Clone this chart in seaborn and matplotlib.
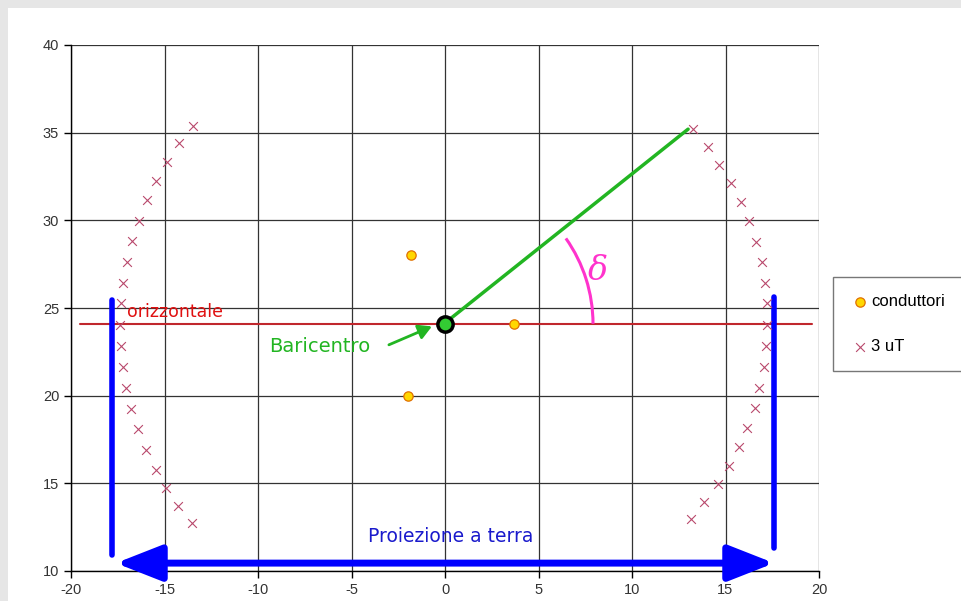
import numpy as np
import pandas as pd
import matplotlib
matplotlib.use("Agg")
import matplotlib.pyplot as plt
import seaborn as sns
from matplotlib.patches import Arc, Rectangle

sns.set_style("white")
plt.rcParams['font.family'] = ['Liberation Sans', 'DejaVu Sans']
plt.rcParams['axes.unicode_minus'] = False

# ---- data ----
cond_x = [-1.8, 3.7, -2.0]
cond_y = [28.0, 24.1, 20.0]

left_x = [-13.46, -14.22, -14.85, -15.44, -15.92, -16.36, -16.74, -16.99, -17.22, -17.33, -17.38,
          -17.33, -17.22, -17.06, -16.79, -16.43, -15.99, -15.47, -14.94, -14.28, -13.51]
left_y = [35.38, 34.40, 33.35, 32.26, 31.15, 29.98, 28.82, 27.61, 26.45, 25.27, 24.05,
          22.84, 21.65, 20.42, 19.24, 18.08, 16.92, 15.78, 14.75, 13.71, 12.74]
right_x = [13.28, 14.05, 14.67, 15.29, 15.83, 16.27, 16.65, 16.94, 17.13, 17.22, 17.22,
           17.18, 17.07, 16.79, 16.56, 16.17, 15.71, 15.19, 14.58, 13.87, 13.14]
right_y = [35.20, 34.20, 33.16, 32.15, 31.07, 29.98, 28.77, 27.61, 26.45, 25.27, 24.05,
           22.84, 21.64, 20.46, 19.28, 18.14, 17.07, 15.99, 14.96, 13.95, 12.98]

bary_x, bary_y = 0.0, 24.1
horiz_x = [-19.5, 19.6]
green_end = (13.0, 35.2)
blue_left_x, blue_left_y = -17.8, [10.9, 25.45]
blue_right_x, blue_right_y = 17.6, [11.3, 25.6]
arrow_y = 10.45
arrow_x = [-17.6, 17.6]

xticks = [-20, -15, -10, -5, 0, 5, 10, 15, 20]
yticks = [10, 15, 20, 25, 30, 35, 40]

cond_df = pd.DataFrame({"x": cond_x, "y": cond_y, "s": "conduttori"})
uT_df = pd.DataFrame({"x": left_x + right_x, "y": left_y + right_y, "s": "3 uT"})

# ---- figure ----
fig = plt.figure(figsize=(9.62, 6.01), dpi=100, facecolor="white")
fig.patches.append(Rectangle((0, 1 - 8/601), 1, 8/601, transform=fig.transFigure,
                             facecolor="#e6e6e6", edgecolor="none", zorder=-1))
fig.patches.append(Rectangle((0, 0), 8/962, 1, transform=fig.transFigure,
                             facecolor="#e6e6e6", edgecolor="none", zorder=-1))
ax = fig.add_axes([71/962, 30/601, 748/962, 526/601])
ax.set_xlim(-20, 20)
ax.set_ylim(10, 40)
ax.set_xticks(xticks)
ax.set_yticks(yticks)
ax.grid(True, color="#333333", lw=0.9)
ax.set_axisbelow(True)
for s in ["top", "right"]:
    ax.spines[s].set_visible(False)
for s in ["left", "bottom"]:
    ax.spines[s].set_color("black")
    ax.spines[s].set_linewidth(1)
ax.tick_params(axis="both", direction="out", length=5, width=1, color="black",
               labelsize=10.5, labelcolor="#333333", left=True, bottom=True)

# horizontal line
ax.plot(horiz_x, [bary_y, bary_y], color="#c0272d", lw=1.5, zorder=2)
# green line
ax.plot([0.3, green_end[0]], [bary_y + 0.3, green_end[1]], color="#22b522", lw=2.5, zorder=2)

# markers
sns.scatterplot(data=cond_df, x="x", y="y", ax=ax, marker="o", s=45,
                color="#ffd700", edgecolor="#e07000", linewidth=0.9,
                label="conduttori", zorder=4)
sns.scatterplot(data=uT_df, x="x", y="y", ax=ax, marker="x", s=40,
                color="#b8496c", linewidth=0.8, label="3 uT", zorder=4)
ax.plot([bary_x], [bary_y], "o", ms=11, mfc="#33cc33", mec="black", mew=2.5, zorder=5)
ax.set_xlabel("")
ax.set_ylabel("")

# angle arc (circular in pixel space)
r_px = 148
ppx = 748 / 40
ppy = 526 / 30
arc = Arc((bary_x, bary_y), 2 * r_px / ppx, 2 * r_px / ppy, theta1=0, theta2=37,
          color="#ff33cc", lw=2.2, zorder=3)
ax.add_patch(arc)
ax.text(8.2, 27.1, "δ", color="#ff33cc", fontsize=24, style="italic",
        family="DejaVu Serif", ha="center", va="center")

# labels
ax.text(-17.0, 24.25, "orizzontale", color="#e01010", fontsize=12.5,
        ha="left", va="bottom", family="DejaVu Sans")
ax.annotate("", xy=(-0.7, 23.95), xytext=(-3.0, 22.9),
            arrowprops=dict(arrowstyle="-|>,head_length=0.8,head_width=0.45",
                            color="#22b522", lw=2, shrinkA=0, shrinkB=0))
ax.text(-9.4, 22.8, "Baricentro", color="#22b522", fontsize=14,
        ha="left", va="center", family="DejaVu Sans")
ax.text(0.3, 11.95, "Proiezione a terra", color="#1a1acc", fontsize=13.5,
        ha="center", va="center", family="DejaVu Sans")

# blue lines
ax.plot([blue_left_x, blue_left_x], blue_left_y, color="#0000ff", lw=4, zorder=3)
ax.plot([blue_right_x, blue_right_x], blue_right_y, color="#0000ff", lw=4, zorder=3)
ax.annotate("", xy=(arrow_x[0], arrow_y), xytext=(arrow_x[1], arrow_y),
            arrowprops=dict(arrowstyle="<|-|>,head_length=1.4,head_width=0.55",
                            color="#0000ff", lw=5, mutation_scale=20,
                            shrinkA=0, shrinkB=0), zorder=3)

leg = ax.legend(loc="center left", bbox_to_anchor=(833/962, (601-324)/601),
                bbox_transform=fig.transFigure, frameon=True, fancybox=False,
                edgecolor="#555555", fontsize=12, labelspacing=1.8,
                handletextpad=0.1, borderpad=1.0, handlelength=1.2,
                borderaxespad=0)
leg.get_frame().set_linewidth(1)
for t in leg.get_texts():
    t.set_color("black")

fig.savefig("out.png", dpi=100, facecolor="white")
